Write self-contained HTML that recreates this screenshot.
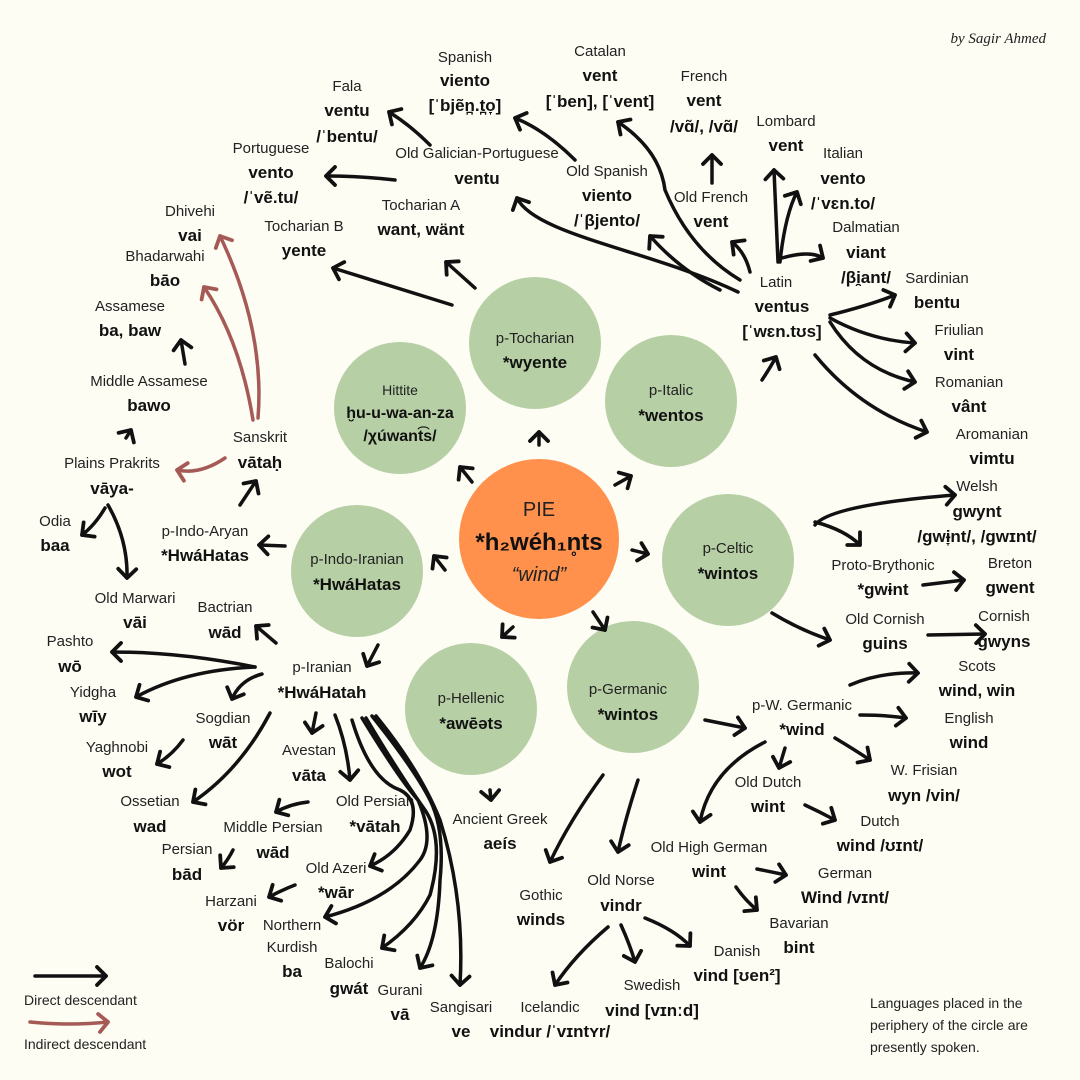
<!DOCTYPE html>
<html><head><meta charset="utf-8"><style>
html,body{margin:0;padding:0;background:#FDFDF4;}
svg{display:block;font-family:"Liberation Sans","DejaVu Sans",sans-serif;}
.n{font-size:15px;fill:#222;text-anchor:middle;}
.w{font-size:17px;font-weight:bold;fill:#111;text-anchor:middle;}
.a{fill:none;stroke:#111;stroke-width:3.5;stroke-linecap:round;marker-end:url(#h);}
.r{fill:none;stroke:#A65A55;stroke-width:3.5;stroke-linecap:round;marker-end:url(#hr);}
</style></head><body>
<svg width="1080" height="1080" viewBox="0 0 1080 1080">
<defs>
<marker id="h" markerUnits="userSpaceOnUse" markerWidth="24" markerHeight="24" refX="12" refY="12" orient="auto"><path d="M3,3 L12,12 L3,21" fill="none" stroke="#111" stroke-width="3.8" stroke-linecap="round" stroke-linejoin="round"/></marker>
<marker id="hr" markerUnits="userSpaceOnUse" markerWidth="24" markerHeight="24" refX="12" refY="12" orient="auto"><path d="M3,3 L12,12 L3,21" fill="none" stroke="#A65A55" stroke-width="3.8" stroke-linecap="round" stroke-linejoin="round"/></marker>
</defs>
<rect width="1080" height="1080" fill="#FDFDF4"/>
<circle cx="539" cy="539" r="80" fill="#FF914D"/>
<g fill="#B6CFA5">
<circle cx="535" cy="343" r="66"/><circle cx="400" cy="408" r="66"/><circle cx="671" cy="401" r="66"/>
<circle cx="357" cy="571" r="66"/><circle cx="728" cy="560" r="66"/><circle cx="471" cy="709" r="66"/><circle cx="633" cy="687" r="66"/>
</g>
<text x="539" y="516" style="font-size:20px;fill:#222;text-anchor:middle">PIE</text>
<text x="539" y="550" style="font-size:24px;font-weight:bold;fill:#111;text-anchor:middle">*h₂wéh₁n̥ts</text>
<text x="539" y="581" style="font-size:20px;font-style:italic;fill:#222;text-anchor:middle">“wind”</text>
<text class="n" x="535" y="343">p-Tocharian</text><text class="w" x="535" y="368">*wyente</text>
<text class="n" x="400" y="395" style="font-size:14px">Hittite</text><text class="w" x="400" y="418" style="font-size:16px">ḫu-u-wa-an-za</text><text class="w" x="400" y="441" style="font-size:16px">/χúwant͡s/</text>
<text class="n" x="671" y="395">p-Italic</text><text class="w" x="671" y="421">*wentos</text>
<text class="n" x="357" y="564">p-Indo-Iranian</text><text class="w" x="357" y="590">*HwáHatas</text>
<text class="n" x="728" y="553">p-Celtic</text><text class="w" x="728" y="579">*wintos</text>
<text class="n" x="471" y="703">p-Hellenic</text><text class="w" x="471" y="729">*awēəts</text>
<text class="n" x="628" y="694">p-Germanic</text><text class="w" x="628" y="720">*wintos</text>
<g>
<text class="n" x="465" y="62">Spanish</text><text class="w" x="465" y="86">viento</text><text class="w" x="465" y="111">[ˈbjẽn̪.t̪o̞]</text>
<text class="n" x="600" y="56">Catalan</text><text class="w" x="600" y="81">vent</text><text class="w" x="600" y="107">[ˈben], [ˈvent]</text>
<text class="n" x="704" y="81">French</text><text class="w" x="704" y="106">vent</text><text class="w" x="704" y="132">/vɑ̃/, /vɑ̃/</text>
<text class="n" x="347" y="91">Fala</text><text class="w" x="347" y="116">ventu</text><text class="w" x="347" y="142">/ˈbentu/</text>
<text class="n" x="786" y="126">Lombard</text><text class="w" x="786" y="151">vent</text>
<text class="n" x="843" y="158">Italian</text><text class="w" x="843" y="184">vento</text><text class="w" x="843" y="209">/ˈvɛn.to/</text>
<text class="n" x="477" y="158">Old Galician-Portuguese</text><text class="w" x="477" y="184">ventu</text>
<text class="n" x="271" y="153">Portuguese</text><text class="w" x="271" y="178">vento</text><text class="w" x="271" y="203">/ˈvẽ.tu/</text>
<text class="n" x="607" y="176">Old Spanish</text><text class="w" x="607" y="201">viento</text><text class="w" x="607" y="226">/ˈβjento/</text>
<text class="n" x="711" y="202">Old French</text><text class="w" x="711" y="227">vent</text>
<text class="n" x="190" y="216">Dhivehi</text><text class="w" x="190" y="241">vai</text>
<text class="n" x="421" y="210">Tocharian A</text><text class="w" x="421" y="235">want, wänt</text>
<text class="n" x="304" y="231">Tocharian B</text><text class="w" x="304" y="256">yente</text>
<text class="n" x="866" y="232">Dalmatian</text><text class="w" x="866" y="258">viant</text><text class="w" x="866" y="283">/βi̯ant/</text>
<text class="n" x="165" y="261">Bhadarwahi</text><text class="w" x="165" y="286">bāo</text>
<text class="n" x="776" y="287">Latin</text><text class="w" x="782" y="312">ventus</text><text class="w" x="782" y="337">[ˈwɛn.tʊs]</text>
<text class="n" x="937" y="283">Sardinian</text><text class="w" x="937" y="308">bentu</text>
<text class="n" x="130" y="311">Assamese</text><text class="w" x="130" y="336">ba, baw</text>
<text class="n" x="959" y="335">Friulian</text><text class="w" x="959" y="360">vint</text>
<text class="n" x="149" y="386">Middle Assamese</text><text class="w" x="149" y="411">bawo</text>
<text class="n" x="969" y="387">Romanian</text><text class="w" x="969" y="412">vânt</text>
<text class="n" x="992" y="439">Aromanian</text><text class="w" x="992" y="464">vimtu</text>
<text class="n" x="260" y="442">Sanskrit</text><text class="w" x="260" y="468">vātaḥ</text>
<text class="n" x="112" y="468">Plains Prakrits</text><text class="w" x="112" y="494">vāya-</text>
<text class="n" x="977" y="491">Welsh</text><text class="w" x="977" y="517">gwynt</text><text class="w" x="977" y="542">/gwɨ̞nt/, /gwɪnt/</text>
<text class="n" x="55" y="526">Odia</text><text class="w" x="55" y="551">baa</text>
<text class="n" x="205" y="536">p-Indo-Aryan</text><text class="w" x="205" y="561">*HwáHatas</text>
<text class="n" x="883" y="570">Proto-Brythonic</text><text class="w" x="883" y="595">*gwɨnt</text>
<text class="n" x="1010" y="568">Breton</text><text class="w" x="1010" y="593">gwent</text>
<text class="n" x="135" y="603">Old Marwari</text><text class="w" x="135" y="628">vāi</text>
<text class="n" x="225" y="612">Bactrian</text><text class="w" x="225" y="638">wād</text>
<text class="n" x="885" y="624">Old Cornish</text><text class="w" x="885" y="649">guins</text>
<text class="n" x="1004" y="621">Cornish</text><text class="w" x="1004" y="647">gwyns</text>
<text class="n" x="70" y="646">Pashto</text><text class="w" x="70" y="672">wō</text>
<text class="n" x="977" y="671">Scots</text><text class="w" x="977" y="696">wind, win</text>
<text class="n" x="322" y="672">p-Iranian</text><text class="w" x="322" y="698">*HwáHatah</text>
<text class="n" x="93" y="697">Yidgha</text><text class="w" x="93" y="722">wīy</text>
<text class="n" x="802" y="710">p-W. Germanic</text><text class="w" x="802" y="735">*wind</text>
<text class="n" x="969" y="723">English</text><text class="w" x="969" y="748">wind</text>
<text class="n" x="223" y="723">Sogdian</text><text class="w" x="223" y="748">wāt</text>
<text class="n" x="117" y="752">Yaghnobi</text><text class="w" x="117" y="777">wot</text>
<text class="n" x="309" y="755">Avestan</text><text class="w" x="309" y="781">vāta</text>
<text class="n" x="924" y="775">W. Frisian</text><text class="w" x="924" y="801">wyn /vin/</text>
<text class="n" x="768" y="787">Old Dutch</text><text class="w" x="768" y="812">wint</text>
<text class="n" x="150" y="806">Ossetian</text><text class="w" x="150" y="832">wad</text>
<text class="n" x="375" y="806">Old Persian</text><text class="w" x="375" y="832">*vātah</text>
<text class="n" x="273" y="832">Middle Persian</text><text class="w" x="273" y="858">wād</text>
<text class="n" x="880" y="826">Dutch</text><text class="w" x="880" y="851">wind /ʊɪnt/</text>
<text class="n" x="500" y="824">Ancient Greek</text><text class="w" x="500" y="849">aeís</text>
<text class="n" x="709" y="852">Old High German</text><text class="w" x="709" y="877">wint</text>
<text class="n" x="187" y="854">Persian</text><text class="w" x="187" y="880">bād</text>
<text class="n" x="845" y="878">German</text><text class="w" x="845" y="903">Wind /vɪnt/</text>
<text class="n" x="336" y="873">Old Azeri</text><text class="w" x="336" y="898">*wār</text>
<text class="n" x="621" y="885">Old Norse</text><text class="w" x="621" y="911">vindr</text>
<text class="n" x="541" y="900">Gothic</text><text class="w" x="541" y="925">winds</text>
<text class="n" x="231" y="906">Harzani</text><text class="w" x="231" y="931">vör</text>
<text class="n" x="799" y="928">Bavarian</text><text class="w" x="799" y="953">bint</text>
<text class="n" x="292" y="930">Northern</text><text class="n" x="292" y="952">Kurdish</text><text class="w" x="292" y="977">ba</text>
<text class="n" x="737" y="956">Danish</text><text class="w" x="737" y="981">vind [ʊen²]</text>
<text class="n" x="349" y="968">Balochi</text><text class="w" x="349" y="994">gwát</text>
<text class="n" x="400" y="995">Gurani</text><text class="w" x="400" y="1020">vā</text>
<text class="n" x="652" y="990">Swedish</text><text class="w" x="652" y="1016">vind [vɪnːd]</text>
<text class="n" x="461" y="1012">Sangisari</text><text class="w" x="461" y="1037">ve</text>
<text class="n" x="550" y="1012">Icelandic</text><text class="w" x="550" y="1037">vindur /ˈvɪntʏr/</text>
</g>
<text x="1046" y="43" style="font-family:'Liberation Serif',serif;font-style:italic;font-size:15px;fill:#222;text-anchor:end">by Sagir Ahmed</text>
<text x="24" y="1005" style="font-size:14px;fill:#222">Direct descendant</text>
<text x="24" y="1049" style="font-size:14px;fill:#222">Indirect descendant</text>
<text style="font-size:14px;fill:#222"><tspan x="870" y="1008">Languages placed in the</tspan><tspan x="870" y="1030">periphery of the circle are</tspan><tspan x="870" y="1052">presently spoken.</tspan></text>
<g>
<path class="a" d="M35,976 L106,976"/>
<path class="r" d="M30,1022 Q70,1026 108,1022"/>
<path class="a" d="M539,445 L539,432"/>
<path class="a" d="M472,482 L460,467"/>
<path class="a" d="M615,485 L631,476"/>
<path class="a" d="M445,570 L434,556"/>
<path class="a" d="M632,550 L648,554"/>
<path class="a" d="M513,627 L502,637"/>
<path class="a" d="M593,612 L605,630"/>
<path class="a" d="M452,305 L333,268"/>
<path class="a" d="M475,288 L446,262"/>
<path class="a" d="M762,380 Q770,368 776,357"/>
<path class="a" d="M720,290 Q680,270 650,236"/>
<path class="a" d="M738,292 C650,250 535,235 517,198"/>
<path class="a" d="M740,280 Q690,250 665,190 Q660,150 618,122"/>
<path class="a" d="M750,272 Q745,252 732,242"/>
<path class="a" d="M712,183 L712,155"/>
<path class="a" d="M778,262 L774,170"/>
<path class="a" d="M780,262 Q785,215 797,192"/>
<path class="a" d="M782,258 Q810,250 823,258"/>
<path class="a" d="M830,315 Q870,305 895,295"/>
<path class="a" d="M830,318 Q870,340 915,343"/>
<path class="a" d="M830,322 Q860,370 915,382"/>
<path class="a" d="M815,355 Q860,410 927,432"/>
<path class="a" d="M395,180 Q360,176 326,176"/>
<path class="a" d="M430,145 Q410,125 389,112"/>
<path class="a" d="M575,160 Q545,130 515,118"/>
<path class="r" d="M258,418 Q265,330 220,236"/>
<path class="r" d="M253,420 Q240,340 204,287"/>
<path class="r" d="M225,458 Q200,475 177,470"/>
<path class="a" d="M185,364 L181,340"/>
<path class="a" d="M126,438 L131,430"/>
<path class="a" d="M105,508 Q95,525 82,535"/>
<path class="a" d="M108,505 Q128,540 127,578"/>
<path class="a" d="M240,505 L256,481"/>
<path class="a" d="M285,546 L259,545"/>
<path class="a" d="M378,645 L367,666"/>
<path class="a" d="M276,643 L256,626"/>
<path class="a" d="M255,667 Q180,652 112,652"/>
<path class="a" d="M255,667 Q185,670 136,697"/>
<path class="a" d="M262,674 Q240,680 232,699"/>
<path class="a" d="M316,713 L312,733"/>
<path class="a" d="M270,713 Q240,770 193,802"/>
<path class="a" d="M335,715 Q347,745 350,780"/>
<path class="a" d="M352,720 Q370,780 400,790 Q420,800 410,830 Q395,855 370,866"/>
<path class="a" d="M362,718 Q400,780 418,800 Q435,840 420,860 Q390,900 325,917"/>
<path class="a" d="M366,718 Q400,775 425,810 Q445,840 430,895 Q415,925 382,948"/>
<path class="a" d="M372,716 Q415,770 430,800 Q445,830 440,880 Q438,940 420,968"/>
<path class="a" d="M376,716 Q420,770 440,820 Q465,900 460,985"/>
<path class="a" d="M183,740 Q172,755 157,764"/>
<path class="a" d="M308,802 Q290,804 276,812"/>
<path class="a" d="M233,850 Q228,860 221,868"/>
<path class="a" d="M295,885 Q282,890 269,897"/>
<path class="a" d="M490,790 L491,800"/>
<path class="a" d="M815,525 Q830,505 955,495"/>
<path class="a" d="M815,522 Q845,530 860,545"/>
<path class="a" d="M923,585 L964,580"/>
<path class="a" d="M772,613 Q800,630 830,640"/>
<path class="a" d="M928,635 L985,634"/>
<path class="a" d="M705,720 L745,728"/>
<path class="a" d="M603,775 Q570,820 550,862"/>
<path class="a" d="M638,780 Q625,820 618,852"/>
<path class="a" d="M850,685 Q880,672 918,673"/>
<path class="a" d="M860,715 Q885,715 906,718"/>
<path class="a" d="M835,738 Q855,750 870,760"/>
<path class="a" d="M785,748 L779,768"/>
<path class="a" d="M765,742 Q710,770 700,822"/>
<path class="a" d="M805,805 Q820,812 835,820"/>
<path class="a" d="M757,869 Q772,872 786,875"/>
<path class="a" d="M736,887 Q745,900 757,910"/>
<path class="a" d="M608,927 Q575,955 555,985"/>
<path class="a" d="M621,925 Q630,945 635,962"/>
<path class="a" d="M645,918 Q675,930 690,946"/>
</g>
</svg>
</body></html>
